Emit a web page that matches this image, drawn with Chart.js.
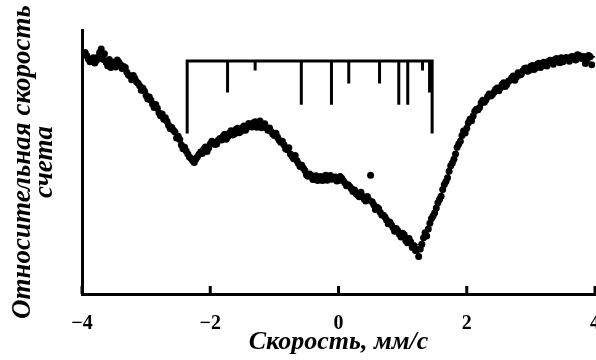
<!DOCTYPE html>
<html><head><meta charset="utf-8">
<script src="https://cdn.jsdelivr.net/npm/chart.js@4/dist/chart.umd.min.js"></script>
<style>html,body{margin:0;padding:0;background:#fff}#wrap{width:596px;height:360px}</style>
</head><body><div id="wrap"><canvas id="c" width="596" height="360"></canvas></div>
<script>
// Measured points (velocity, mm/s ; relative count rate, arbitrary units)
const velocity = [
-3.95,-3.90,-3.85,-3.80,-3.75,-3.70,-3.65,-3.60,-3.55,-3.50,-3.45,-3.40,-3.35,-3.30,-3.25,-3.20,-3.15,-3.10,-3.05,-3.00,
-2.95,-2.90,-2.85,-2.80,-2.75,-2.70,-2.65,-2.60,-2.55,-2.50,-2.45,-2.40,-2.35,-2.30,-2.25,-2.20,-2.15,-2.10,-2.05,-2.00,
-1.95,-1.90,-1.85,-1.80,-1.75,-1.70,-1.65,-1.60,-1.55,-1.50,-1.45,-1.40,-1.35,-1.30,-1.25,-1.20,-1.15,-1.10,-1.05,-1.00,
-0.95,-0.90,-0.85,-0.80,-0.75,-0.70,-0.65,-0.60,-0.55,-0.50,-0.45,-0.40,-0.35,-0.30,-0.25,-0.20,-0.15,-0.10,-0.05,0.00,
0.05,0.10,0.15,0.20,0.25,0.30,0.35,0.40,0.45,0.50,0.55,0.60,0.65,0.70,0.75,0.80,0.85,0.90,0.95,1.00,
1.05,1.10,1.15,1.20,1.25,1.30,1.35,1.40,1.45,1.50,1.55,1.60,1.65,1.70,1.75,1.80,1.85,1.90,1.95,2.00,
2.05,2.10,2.15,2.20,2.25,2.30,2.35,2.40,2.45,2.50,2.55,2.60,2.65,2.70,2.75,2.80,2.85,2.90,2.95,3.00,
3.05,3.10,3.15,3.20,3.25,3.30,3.35,3.40,3.45,3.50,3.55,3.60,3.65,3.70,3.75,3.80,3.85,3.90,3.95];
const counts = [
91.5,89.0,88.2,87.5,89.8,92.8,91.0,86.5,85.8,87.9,88.6,86.9,86.2,84.0,82.6,82.8,80.4,78.9,77.9,75.2,
74.6,72.0,71.8,68.7,68.2,66.8,63.9,63.1,61.4,59.8,56.4,55.6,53.0,51.4,49.8,52.0,53.8,54.9,54.0,56.8,
57.5,56.8,58.9,59.8,58.6,61.0,60.2,62.3,61.1,63.0,62.0,64.6,63.3,65.2,64.0,63.0,64.5,62.0,61.6,60.0,
59.4,57.5,56.5,54.6,53.0,51.2,50.6,48.3,47.7,45.2,45.5,43.4,44.8,44.2,43.0,45.0,44.6,43.5,44.3,43.0,
43.8,42.0,41.4,40.0,39.4,37.4,38.5,36.0,36.9,45.0,33.8,32.9,31.0,29.8,28.0,27.3,25.2,24.8,22.6,23.0,
20.2,21.0,17.6,16.5,14.2,18.8,23.2,24.6,28.6,30.8,34.6,37.0,41.5,44.0,48.6,51.0,55.6,57.9,61.7,62.8,
66.2,67.4,70.0,70.6,73.4,73.6,75.8,75.6,77.6,77.0,79.4,78.6,80.6,81.8,81.0,83.8,83.2,85.4,84.4,86.3,
85.0,87.0,85.8,87.8,86.4,88.5,87.0,89.2,87.6,88.0,89.6,88.2,90.0,88.6,90.4,89.2,87.3,90.3,86.8];

// Second (interleaved) half of the measured channels
const velocity2 = [
-3.925,-3.875,-3.825,-3.775,-3.725,-3.675,-3.625,-3.575,-3.525,-3.475,-3.425,-3.375,-3.325,-3.275,-3.225,-3.175,-3.125,-3.075,-3.025,-2.975,
-2.925,-2.875,-2.825,-2.775,-2.725,-2.675,-2.625,-2.575,-2.525,-2.475,-2.425,-2.375,-2.325,-2.275,-2.225,-2.175,-2.125,-2.075,-2.025,-1.975,
-1.925,-1.875,-1.825,-1.775,-1.725,-1.675,-1.625,-1.575,-1.525,-1.475,-1.425,-1.375,-1.325,-1.275,-1.225,-1.175,-1.125,-1.075,-1.025,-0.975,
-0.925,-0.875,-0.825,-0.775,-0.725,-0.675,-0.625,-0.575,-0.525,-0.475,-0.425,-0.375,-0.325,-0.275,-0.225,-0.175,-0.125,-0.075,-0.025,0.025,
0.075,0.125,0.175,0.225,0.275,0.325,0.375,0.425,0.475,0.525,0.575,0.625,0.675,0.725,0.775,0.825,0.875,0.925,0.975,1.025,
1.075,1.125,1.175,1.225,1.275,1.325,1.375,1.425,1.475,1.525,1.575,1.625,1.675,1.725,1.775,1.825,1.875,1.925,1.975,2.025,
2.075,2.125,2.175,2.225,2.275,2.325,2.375,2.425,2.475,2.525,2.575,2.625,2.675,2.725,2.775,2.825,2.875,2.925,2.975,3.025,
3.075,3.125,3.175,3.225,3.275,3.325,3.375,3.425,3.475,3.525,3.575,3.625,3.675,3.725,3.775,3.825,3.875,3.925];
const counts2 = [
90.2,88.0,89.5,88.4,91.5,88.9,87.8,88.8,86.6,86.0,87.8,85.4,85.8,83.0,81.2,81.6,79.8,77.2,76.8,73.9,
73.4,70.6,70.4,67.5,66.2,65.4,62.7,62.0,59.1,58.5,55.0,54.2,51.9,50.6,51.0,52.9,53.2,55.7,55.3,57.9,
56.6,58.2,58.3,60.5,59.7,61.8,60.6,62.8,61.6,63.6,63.1,64.0,64.9,63.2,65.5,63.4,63.0,62.9,60.6,60.9,
58.2,57.9,55.0,55.4,52.2,52.5,49.4,48.8,46.8,44.6,45.0,43.6,43.0,44.5,43.8,43.1,44.9,44.0,42.8,44.5,
42.9,41.0,40.7,38.8,38.0,36.8,37.0,35.2,35.6,34.9,32.0,32.4,29.9,29.2,26.6,26.2,23.8,24.0,21.6,22.4,
19.4,19.8,18.4,16.8,17.0,21.3,22.0,26.8,29.5,32.6,35.8,39.6,42.6,46.5,49.6,53.0,56.8,60.0,61.0,64.9,
65.6,69.2,69.8,72.4,72.6,74.8,75.0,76.4,78.0,78.0,80.0,79.4,81.0,82.6,82.2,83.0,84.6,85.6,84.8,86.6,
85.6,87.4,86.8,86.6,88.2,87.6,88.8,88.4,89.5,88.6,89.0,89.8,88.9,90.6,89.4,90.0,88.8,89.9];

// Fitted curve
const fitVelocity = [
-4.0,-3.9,-3.8,-3.7,-3.6,-3.5,-3.4,-3.3,-3.2,-3.1,-3.0,-2.9,-2.8,-2.7,-2.6,-2.5,-2.4,-2.3,-2.2,-2.1,
-2.0,-1.9,-1.8,-1.7,-1.6,-1.5,-1.4,-1.3,-1.2,-1.1,-1.0,-0.9,-0.8,-0.7,-0.6,-0.5,-0.4,-0.3,-0.2,-0.1,
0.0,0.1,0.2,0.3,0.4,0.5,0.6,0.7,0.8,0.9,1.0,1.1,1.2,1.3,1.4,1.5,1.6,1.7,1.8,1.9,
2.0,2.1,2.2,2.3,2.4,2.5,2.6,2.7,2.8,2.9,3.0,3.1,3.2,3.3,3.4,3.5,3.6,3.7,3.8,3.9,4.0];
const fitCounts = [
90.5,89.9,89.2,88.5,87.8,87.0,86.0,84.6,82.2,79.2,75.8,72.5,69.3,66.0,62.6,59.0,55.0,52.0,52.5,54.3,
56.2,57.9,59.2,60.3,61.4,62.4,63.4,64.1,63.9,62.6,60.8,58.0,55.0,51.9,48.9,46.0,44.3,43.9,44.1,44.0,
43.6,42.6,40.6,38.2,36.4,34.5,32.4,29.6,26.9,24.3,22.3,20.4,18.6,19.5,25.0,31.0,37.6,44.6,51.8,58.4,
63.6,67.9,71.3,74.0,76.1,77.8,79.4,81.1,82.9,84.4,85.5,86.3,87.0,87.6,88.1,88.5,88.9,89.2,89.5,89.7,89.9];

// Stick diagram (line positions, mm/s ; lower end of each stick)
const stickPos    = [-2.36,-1.73,-1.30,-0.58,-0.11,0.16,0.64,0.94,1.08,1.31,1.42,1.46];
const stickBottom = [61.4,76.9,85.2,72.3,72.3,80.3,80.3,72.3,72.3,85.2,76.9,61.4];
const stickTop = 88.3;

const xTicks = [-4,-2,0,2,4];
const xTitle = 'Скорость, мм/с';
const yTitle = ['Относительная скорость','счета'];

const pts = velocity.map((v,i)=>({x:v,y:counts[i]})).concat(velocity2.map((v,i)=>({x:v,y:counts2[i]})));
const fit = fitVelocity.map((v,i)=>({x:v,y:fitCounts[i]}));
const sticks = [{x:stickPos[0],y:stickTop},{x:stickPos[stickPos.length-1],y:stickTop},{x:stickPos[0],y:null}];
stickPos.forEach((p,i)=>{ sticks.push({x:p,y:stickTop},{x:p,y:stickBottom[i]},{x:p,y:null}); });

const inwardTicks = {
  id:'inwardTicks',
  afterDatasetsDraw(chart){
    const xs = chart.scales.x, ctx = chart.ctx, b = chart.chartArea.bottom;
    ctx.save(); ctx.strokeStyle='#000'; ctx.lineWidth=3;
    xTicks.forEach(t=>{ const px = xs.getPixelForValue(t); ctx.beginPath(); ctx.moveTo(px,b); ctx.lineTo(px,b-8); ctx.stroke(); });
    ctx.restore();
  }
};

new Chart(document.getElementById('c'),{
  type:'scatter',
  data:{datasets:[
    {type:'line',data:sticks,borderColor:'#000',borderWidth:3,pointRadius:0,spanGaps:false,borderCapStyle:'square',order:3},
    {type:'line',data:fit,borderColor:'#000',borderWidth:1.5,pointRadius:0,tension:0.3,order:2},
    {data:pts,backgroundColor:'#000',borderWidth:0,pointRadius:3.5,order:1}
  ]},
  options:{
    responsive:false,animation:false,devicePixelRatio:1,
    layout:{autoPadding:false,padding:{top:30,right:1,left:0,bottom:0}},
    plugins:{legend:{display:false},tooltip:{enabled:false}},
    scales:{
      x:{type:'linear',min:-4,max:4,
        afterBuildTicks(s){ s.ticks = xTicks.map(v=>({value:v})); },
        afterFit(s){ s.height=66; s.paddingLeft=0; s.paddingRight=0; },
        grid:{display:false},
        border:{display:true,color:'#000',width:3},
        ticks:{color:'#000',padding:10,maxRotation:0,autoSkip:false,
          font:{family:'Liberation Serif',size:20,weight:'bold'},
          callback:v=> (v<0?'\u2212'+Math.abs(v):String(v))},
        title:{display:true,text:xTitle,color:'#000',padding:{top:0,bottom:2},
          font:{family:'Liberation Serif',size:26,weight:'bold',style:'italic'}}
      },
      y:{type:'linear',min:0,max:100,
        afterFit(s){ s.width=82; s.paddingTop=0; s.paddingBottom=0; },
        grid:{display:false},
        border:{display:true,color:'#000',width:3},
        ticks:{display:false},
        title:{display:true,text:yTitle,color:'#000',padding:{top:12,bottom:0},
          font:{family:'Liberation Serif',size:27,weight:'bold',style:'italic',lineHeight:'22px'}}
      }
    }
  },
  plugins:[inwardTicks]
});
</script></body></html>
